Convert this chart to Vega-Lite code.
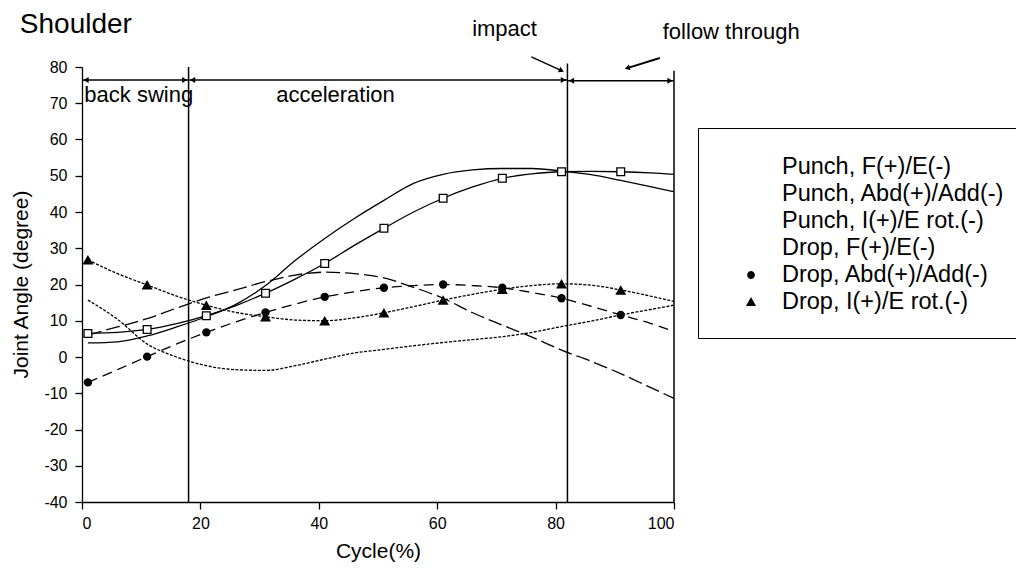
{
  "$schema": "https://vega.github.io/schema/vega-lite/v6.json",
  "width": 592,
  "height": 435,
  "autosize": {"type": "none"},
  "padding": {"left": 82, "top": 67, "right": 342, "bottom": 70},
  "background": "white",
  "config": {
    "font": "Liberation Sans",
    "view": {"stroke": null},
    "axis": {
      "domainColor": "black", "tickColor": "black", "labelColor": "black", "titleColor": "black",
      "labelFont": "Liberation Sans", "titleFont": "Liberation Sans", "titleFontWeight": "normal",
      "grid": false, "domainWidth": 1.3, "tickWidth": 1.3, "labelFontSize": 16, "titleFontSize": 21,
      "labelOverlap": false
    },
    "axisX": {"tickCount": 10},
    "axisY": {"tickCount": 24},
    "legend": {
      "labelFont": "Liberation Sans", "labelFontSize": 23.5, "labelColor": "black"
    }
  },
  "datasets": {
    "curves": [
      {"series": "Punch, F(+)/E(-)", "x": 1, "y": 3.9}, {"series": "Punch, F(+)/E(-)", "x": 6, "y": 4.2}, {"series": "Punch, F(+)/E(-)", "x": 11, "y": 5.8}, {"series": "Punch, F(+)/E(-)", "x": 16, "y": 8.3}, {"series": "Punch, F(+)/E(-)", "x": 21, "y": 11.1}, {"series": "Punch, F(+)/E(-)", "x": 26, "y": 14.5}, {"series": "Punch, F(+)/E(-)", "x": 31, "y": 19.7}, {"series": "Punch, F(+)/E(-)", "x": 36, "y": 26.6}, {"series": "Punch, F(+)/E(-)", "x": 41, "y": 32.7}, {"series": "Punch, F(+)/E(-)", "x": 46, "y": 38.2}, {"series": "Punch, F(+)/E(-)", "x": 51, "y": 43.2}, {"series": "Punch, F(+)/E(-)", "x": 56, "y": 47.9}, {"series": "Punch, F(+)/E(-)", "x": 61, "y": 50.4}, {"series": "Punch, F(+)/E(-)", "x": 66, "y": 51.6}, {"series": "Punch, F(+)/E(-)", "x": 71, "y": 52.0}, {"series": "Punch, F(+)/E(-)", "x": 76, "y": 52.0}, {"series": "Punch, F(+)/E(-)", "x": 81, "y": 51.3}, {"series": "Punch, F(+)/E(-)", "x": 86, "y": 50.3}, {"series": "Punch, F(+)/E(-)", "x": 91, "y": 48.7}, {"series": "Punch, F(+)/E(-)", "x": 96, "y": 47.0}, {"series": "Punch, F(+)/E(-)", "x": 100, "y": 45.6},
      {"series": "Punch, Abd(+)/Add(-)", "x": 1, "y": 6.1}, {"series": "Punch, Abd(+)/Add(-)", "x": 6, "y": 8.3}, {"series": "Punch, Abd(+)/Add(-)", "x": 11, "y": 10.6}, {"series": "Punch, Abd(+)/Add(-)", "x": 16, "y": 13.5}, {"series": "Punch, Abd(+)/Add(-)", "x": 21, "y": 16.3}, {"series": "Punch, Abd(+)/Add(-)", "x": 26, "y": 18.5}, {"series": "Punch, Abd(+)/Add(-)", "x": 31, "y": 20.8}, {"series": "Punch, Abd(+)/Add(-)", "x": 36, "y": 22.6}, {"series": "Punch, Abd(+)/Add(-)", "x": 41, "y": 23.4}, {"series": "Punch, Abd(+)/Add(-)", "x": 46, "y": 23.0}, {"series": "Punch, Abd(+)/Add(-)", "x": 51, "y": 21.8}, {"series": "Punch, Abd(+)/Add(-)", "x": 56, "y": 19.2}, {"series": "Punch, Abd(+)/Add(-)", "x": 61, "y": 16.2}, {"series": "Punch, Abd(+)/Add(-)", "x": 66, "y": 12.2}, {"series": "Punch, Abd(+)/Add(-)", "x": 71, "y": 8.8}, {"series": "Punch, Abd(+)/Add(-)", "x": 76, "y": 5.5}, {"series": "Punch, Abd(+)/Add(-)", "x": 81, "y": 1.9}, {"series": "Punch, Abd(+)/Add(-)", "x": 86, "y": -1.2}, {"series": "Punch, Abd(+)/Add(-)", "x": 91, "y": -4.6}, {"series": "Punch, Abd(+)/Add(-)", "x": 96, "y": -8.4}, {"series": "Punch, Abd(+)/Add(-)", "x": 100, "y": -11.4},
      {"series": "Punch, I(+)/E rot.(-)", "x": 1, "y": 15.7}, {"series": "Punch, I(+)/E rot.(-)", "x": 6, "y": 10.4}, {"series": "Punch, I(+)/E rot.(-)", "x": 11, "y": 3.6}, {"series": "Punch, I(+)/E rot.(-)", "x": 16, "y": 0.0}, {"series": "Punch, I(+)/E rot.(-)", "x": 21, "y": -2.4}, {"series": "Punch, I(+)/E rot.(-)", "x": 26, "y": -3.5}, {"series": "Punch, I(+)/E rot.(-)", "x": 31, "y": -3.7}, {"series": "Punch, I(+)/E rot.(-)", "x": 36, "y": -2.4}, {"series": "Punch, I(+)/E rot.(-)", "x": 41, "y": -0.6}, {"series": "Punch, I(+)/E rot.(-)", "x": 46, "y": 1.1}, {"series": "Punch, I(+)/E rot.(-)", "x": 51, "y": 2.1}, {"series": "Punch, I(+)/E rot.(-)", "x": 56, "y": 3.1}, {"series": "Punch, I(+)/E rot.(-)", "x": 61, "y": 4.0}, {"series": "Punch, I(+)/E rot.(-)", "x": 66, "y": 4.8}, {"series": "Punch, I(+)/E rot.(-)", "x": 71, "y": 5.6}, {"series": "Punch, I(+)/E rot.(-)", "x": 76, "y": 6.8}, {"series": "Punch, I(+)/E rot.(-)", "x": 81, "y": 8.4}, {"series": "Punch, I(+)/E rot.(-)", "x": 86, "y": 9.9}, {"series": "Punch, I(+)/E rot.(-)", "x": 91, "y": 11.6}, {"series": "Punch, I(+)/E rot.(-)", "x": 96, "y": 13.1}, {"series": "Punch, I(+)/E rot.(-)", "x": 100, "y": 14.3},
      {"series": "Drop, F(+)/E(-)", "x": 1, "y": 6.5}, {"series": "Drop, F(+)/E(-)", "x": 6, "y": 6.8}, {"series": "Drop, F(+)/E(-)", "x": 11, "y": 7.6}, {"series": "Drop, F(+)/E(-)", "x": 16, "y": 9.2}, {"series": "Drop, F(+)/E(-)", "x": 21, "y": 11.4}, {"series": "Drop, F(+)/E(-)", "x": 26, "y": 14.2}, {"series": "Drop, F(+)/E(-)", "x": 31, "y": 17.6}, {"series": "Drop, F(+)/E(-)", "x": 36, "y": 21.5}, {"series": "Drop, F(+)/E(-)", "x": 41, "y": 25.8}, {"series": "Drop, F(+)/E(-)", "x": 46, "y": 30.8}, {"series": "Drop, F(+)/E(-)", "x": 51, "y": 35.5}, {"series": "Drop, F(+)/E(-)", "x": 56, "y": 40.0}, {"series": "Drop, F(+)/E(-)", "x": 61, "y": 43.8}, {"series": "Drop, F(+)/E(-)", "x": 66, "y": 46.9}, {"series": "Drop, F(+)/E(-)", "x": 71, "y": 49.3}, {"series": "Drop, F(+)/E(-)", "x": 76, "y": 50.5}, {"series": "Drop, F(+)/E(-)", "x": 81, "y": 51.1}, {"series": "Drop, F(+)/E(-)", "x": 86, "y": 51.2}, {"series": "Drop, F(+)/E(-)", "x": 91, "y": 51.1}, {"series": "Drop, F(+)/E(-)", "x": 96, "y": 50.8}, {"series": "Drop, F(+)/E(-)", "x": 100, "y": 50.4},
      {"series": "Drop, Abd(+)/Add(-)", "x": 1, "y": -7.0}, {"series": "Drop, Abd(+)/Add(-)", "x": 6, "y": -3.5}, {"series": "Drop, Abd(+)/Add(-)", "x": 11, "y": 0.1}, {"series": "Drop, Abd(+)/Add(-)", "x": 16, "y": 3.6}, {"series": "Drop, Abd(+)/Add(-)", "x": 21, "y": 6.8}, {"series": "Drop, Abd(+)/Add(-)", "x": 26, "y": 9.7}, {"series": "Drop, Abd(+)/Add(-)", "x": 31, "y": 12.3}, {"series": "Drop, Abd(+)/Add(-)", "x": 36, "y": 14.6}, {"series": "Drop, Abd(+)/Add(-)", "x": 41, "y": 16.6}, {"series": "Drop, Abd(+)/Add(-)", "x": 46, "y": 18.0}, {"series": "Drop, Abd(+)/Add(-)", "x": 51, "y": 19.1}, {"series": "Drop, Abd(+)/Add(-)", "x": 56, "y": 19.7}, {"series": "Drop, Abd(+)/Add(-)", "x": 61, "y": 20.0}, {"series": "Drop, Abd(+)/Add(-)", "x": 66, "y": 19.7}, {"series": "Drop, Abd(+)/Add(-)", "x": 71, "y": 19.1}, {"series": "Drop, Abd(+)/Add(-)", "x": 76, "y": 17.8}, {"series": "Drop, Abd(+)/Add(-)", "x": 81, "y": 16.2}, {"series": "Drop, Abd(+)/Add(-)", "x": 86, "y": 14.0}, {"series": "Drop, Abd(+)/Add(-)", "x": 91, "y": 11.6}, {"series": "Drop, Abd(+)/Add(-)", "x": 96, "y": 9.3}, {"series": "Drop, Abd(+)/Add(-)", "x": 100, "y": 7.0},
      {"series": "Drop, I(+)/E rot.(-)", "x": 1, "y": 26.8}, {"series": "Drop, I(+)/E rot.(-)", "x": 6, "y": 23.0}, {"series": "Drop, I(+)/E rot.(-)", "x": 11, "y": 19.9}, {"series": "Drop, I(+)/E rot.(-)", "x": 16, "y": 16.8}, {"series": "Drop, I(+)/E rot.(-)", "x": 21, "y": 14.3}, {"series": "Drop, I(+)/E rot.(-)", "x": 26, "y": 12.3}, {"series": "Drop, I(+)/E rot.(-)", "x": 31, "y": 11.1}, {"series": "Drop, I(+)/E rot.(-)", "x": 36, "y": 10.2}, {"series": "Drop, I(+)/E rot.(-)", "x": 41, "y": 10.0}, {"series": "Drop, I(+)/E rot.(-)", "x": 46, "y": 10.8}, {"series": "Drop, I(+)/E rot.(-)", "x": 51, "y": 12.2}, {"series": "Drop, I(+)/E rot.(-)", "x": 56, "y": 13.9}, {"series": "Drop, I(+)/E rot.(-)", "x": 61, "y": 15.7}, {"series": "Drop, I(+)/E rot.(-)", "x": 66, "y": 17.3}, {"series": "Drop, I(+)/E rot.(-)", "x": 71, "y": 18.7}, {"series": "Drop, I(+)/E rot.(-)", "x": 76, "y": 19.7}, {"series": "Drop, I(+)/E rot.(-)", "x": 81, "y": 20.2}, {"series": "Drop, I(+)/E rot.(-)", "x": 86, "y": 19.8}, {"series": "Drop, I(+)/E rot.(-)", "x": 91, "y": 18.5}, {"series": "Drop, I(+)/E rot.(-)", "x": 96, "y": 16.8}, {"series": "Drop, I(+)/E rot.(-)", "x": 100, "y": 15.3}
    ],
    "dividers": [{"x": 18, "bottom": -40, "top": 80}, {"x": 82, "bottom": -40, "top": 81}, {"x": 100, "bottom": -40, "top": 79}],
    "phases": [{"start": 0, "end": 18, "level": 76.4}, {"start": 18, "end": 82, "level": 76.4}, {"start": 82, "end": 100, "level": 76.2}],
    "notes": [
      {"text": "back swing", "x": 0.4, "y": 72.3},
      {"text": "acceleration", "x": 32.8, "y": 72.3},
      {"text": "impact", "x": 65.9, "y": 90.5},
      {"text": "follow through", "x": 98.1, "y": 89.7}
    ],
    "heading": [{"text": "Shoulder", "x": -10.5, "y": 91.6}],
    "impact": [{"x": 75.9, "y": 82.8, "x2": 81.0, "y2": 79.0}],
    "follow": [{"x": 97.6, "y": 82.5, "x2": 92.1, "y2": 79.7}]
  },
  "layer": [
    {
      "data": {"name": "curves"},
      "transform": [{"filter": {"field": "series", "oneOf": ["Punch, F(+)/E(-)", "Drop, F(+)/E(-)"]}}],
      "mark": {"type": "line", "interpolate": "monotone", "color": "black", "strokeWidth": 1.3},
      "encoding": {
        "x": {
          "field": "x", "type": "quantitative", "title": "Cycle(%)",
          "scale": {"domain": [0, 100], "nice": false, "zero": false},
          "axis": {
            "values": [0, 10, 20, 30, 40, 50, 60, 70, 80, 90, 100],
            "labelExpr": "datum.value % 20 === 0 ? '' + datum.value : ''",
            "tickSize": 7,
            "labelPadding": 6,
            "titleX": 296, "titleY": 49, "titleBaseline": "middle"
          }
        },
        "y": {
          "field": "y", "type": "quantitative", "title": "Joint Angle (degree)",
          "scale": {"domain": [-40, 80], "nice": false, "zero": false},
          "axis": {
            "values": [-40, -35, -30, -25, -20, -15, -10, -5, 0, 5, 10, 15, 20, 25, 30, 35, 40, 45, 50, 55, 60, 65, 70, 75, 80],
            "labelExpr": "datum.value % 10 === 0 ? '' + datum.value : ''",
            "tickSize": 7,
            "labelPadding": 8,
            "titleX": -61, "titleY": 217, "titleBaseline": "middle", "titleAngle": 270
          }
        },
        "detail": {"field": "series", "type": "nominal"}
      }
    },
    {
      "data": {"name": "curves"},
      "transform": [{"filter": {"field": "series", "equal": "Punch, Abd(+)/Add(-)"}}],
      "mark": {"type": "line", "interpolate": "monotone", "color": "black", "strokeWidth": 1.3, "strokeDash": [14, 5]},
      "encoding": {
        "x": {"field": "x", "type": "quantitative"},
        "y": {"field": "y", "type": "quantitative"}
      }
    },
    {
      "data": {"name": "curves"},
      "transform": [{"filter": {"field": "series", "equal": "Drop, Abd(+)/Add(-)"}}],
      "mark": {"type": "line", "interpolate": "monotone", "color": "black", "strokeWidth": 1.3, "strokeDash": [10, 6]},
      "encoding": {
        "x": {"field": "x", "type": "quantitative"},
        "y": {"field": "y", "type": "quantitative"}
      }
    },
    {
      "data": {"name": "curves"},
      "transform": [{"filter": {"field": "series", "oneOf": ["Punch, I(+)/E rot.(-)", "Drop, I(+)/E rot.(-)"]}}],
      "mark": {"type": "line", "interpolate": "monotone", "color": "black", "strokeWidth": 1.3, "strokeDash": [3, 1.5]},
      "encoding": {
        "x": {"field": "x", "type": "quantitative"},
        "y": {"field": "y", "type": "quantitative"},
        "detail": {"field": "series", "type": "nominal"}
      }
    },
    {
      "data": {"name": "dividers"},
      "mark": {"type": "rule", "color": "black", "strokeWidth": 1.5},
      "encoding": {
        "x": {"field": "x", "type": "quantitative"},
        "y": {"field": "bottom", "type": "quantitative"},
        "y2": {"field": "top"}
      }
    },
    {
      "data": {"name": "phases"},
      "mark": {"type": "rule", "color": "black", "strokeWidth": 1.4},
      "encoding": {
        "x": {"field": "start", "type": "quantitative"},
        "x2": {"field": "end"},
        "y": {"field": "level", "type": "quantitative"}
      }
    },
    {
      "data": {"name": "phases"},
      "mark": {"type": "point", "shape": "triangle-left", "filled": true, "color": "black", "size": 36, "opacity": 1, "xOffset": 4},
      "encoding": {
        "x": {"field": "start", "type": "quantitative"},
        "y": {"field": "level", "type": "quantitative"}
      }
    },
    {
      "data": {"name": "phases"},
      "mark": {"type": "point", "shape": "triangle-right", "filled": true, "color": "black", "size": 36, "opacity": 1, "xOffset": -4},
      "encoding": {
        "x": {"field": "end", "type": "quantitative"},
        "y": {"field": "level", "type": "quantitative"}
      }
    },
    {
      "data": {"name": "notes"},
      "mark": {"type": "text", "align": "left", "baseline": "middle", "fontSize": 22, "font": "Liberation Sans", "color": "black"},
      "encoding": {
        "x": {"field": "x", "type": "quantitative"},
        "y": {"field": "y", "type": "quantitative"},
        "text": {"field": "text"}
      }
    },
    {
      "data": {"name": "heading"},
      "mark": {"type": "text", "align": "left", "baseline": "middle", "fontSize": 28, "font": "Liberation Sans", "color": "black"},
      "encoding": {
        "x": {"field": "x", "type": "quantitative"},
        "y": {"field": "y", "type": "quantitative"},
        "text": {"field": "text"}
      }
    },
    {
      "data": {"name": "impact"},
      "mark": {"type": "rule", "color": "black", "strokeWidth": 1.5},
      "encoding": {
        "x": {"field": "x", "type": "quantitative"},
        "y": {"field": "y", "type": "quantitative"},
        "x2": {"field": "x2"},
        "y2": {"field": "y2"}
      }
    },
    {
      "data": {"name": "impact"},
      "mark": {"type": "point", "shape": "triangle-right", "filled": true, "color": "black", "size": 36, "opacity": 1, "angle": 26},
      "encoding": {
        "x": {"field": "x2", "type": "quantitative"},
        "y": {"field": "y2", "type": "quantitative"}
      }
    },
    {
      "data": {"name": "follow"},
      "mark": {"type": "rule", "color": "black", "strokeWidth": 2},
      "encoding": {
        "x": {"field": "x", "type": "quantitative"},
        "y": {"field": "y", "type": "quantitative"},
        "x2": {"field": "x2"},
        "y2": {"field": "y2"}
      }
    },
    {
      "data": {"name": "follow"},
      "mark": {"type": "point", "shape": "triangle-right", "filled": true, "color": "black", "size": 36, "opacity": 1, "angle": 163},
      "encoding": {
        "x": {"field": "x2", "type": "quantitative"},
        "y": {"field": "y2", "type": "quantitative"}
      }
    },
    {
      "data": {"name": "curves"},
      "transform": [{"filter": "datum.series === 'Drop, F(+)/E(-)' && datum.x % 10 === 1"}],
      "mark": {"type": "point", "shape": "square", "filled": true, "fill": "white", "stroke": "black", "strokeWidth": 1.3, "size": 60, "opacity": 1},
      "encoding": {
        "x": {"field": "x", "type": "quantitative"},
        "y": {"field": "y", "type": "quantitative"}
      }
    },
    {
      "data": {"name": "curves"},
      "transform": [{"filter": "datum.series === 'Drop, Abd(+)/Add(-)' && datum.x % 10 === 1"}],
      "mark": {"type": "point", "shape": "circle", "filled": true, "color": "black", "size": 70, "opacity": 1},
      "encoding": {
        "x": {"field": "x", "type": "quantitative"},
        "y": {"field": "y", "type": "quantitative"}
      }
    },
    {
      "data": {"name": "curves"},
      "transform": [{"filter": "datum.series === 'Drop, I(+)/E rot.(-)' && datum.x % 10 === 1"}],
      "mark": {"type": "point", "shape": "triangle-up", "filled": true, "color": "black", "size": 120, "opacity": 1},
      "encoding": {
        "x": {"field": "x", "type": "quantitative"},
        "y": {"field": "y", "type": "quantitative"}
      }
    },
    {
      "data": {"name": "curves"},
      "transform": [{"filter": "datum.x > 1000"}],
      "mark": {"type": "point", "filled": true, "fill": "black", "stroke": "black", "strokeWidth": 1.3},
      "encoding": {
        "x": {"field": "x", "type": "quantitative"},
        "y": {"field": "y", "type": "quantitative"},
        "shape": {
          "field": "series", "type": "nominal",
          "scale": {
            "domain": ["Punch, F(+)/E(-)", "Punch, Abd(+)/Add(-)", "Punch, I(+)/E rot.(-)", "Drop, F(+)/E(-)", "Drop, Abd(+)/Add(-)", "Drop, I(+)/E rot.(-)"],
            "range": [
              "M-2,0L-0.48,0M-0.06,0L0.08,0M0.44,0L2,0",
              "M-2,0L-1.44,0M-0.24,0L0.24,0M1.44,0L2,0",
              "M-2,0L-1.86,0M-1.76,0L-1.62,0M-1.52,0L-1.38,0M-1.28,0L-1.14,0M-1.04,0L-0.9,0M-0.8,0L-0.66,0M-0.56,0L-0.48,0M-0.06,0L0.08,0M0.44,0L0.58,0M0.68,0L0.82,0M0.92,0L1.06,0M1.16,0L1.3,0M1.4,0L1.54,0M1.64,0L1.78,0M1.88,0L2,0",
              "M-2,0L-0.26,0M0.26,0L2,0M-0.26,-0.26L0.26,-0.26L0.26,0.26L-0.26,0.26ZM-0.26,-0.26L-0.26,0.26L0.26,0.26L0.26,-0.26Z",
              "M-2,0L-1.44,0M1.44,0L2,0M0.28,0L0.242,0.14L0.14,0.242L0,0.28L-0.14,0.242L-0.242,0.14L-0.28,0L-0.242,-0.14L-0.14,-0.242L0,-0.28L0.14,-0.242L0.242,-0.14Z",
              "M-2,0L-1.86,0M-1.76,0L-1.62,0M-1.52,0L-1.38,0M-1.28,0L-1.14,0M-1.04,0L-0.9,0M-0.8,0L-0.66,0M-0.56,0L-0.42,0M0.4,0L0.54,0M0.64,0L0.78,0M0.88,0L1.02,0M1.12,0L1.26,0M1.36,0L1.5,0M1.6,0L1.74,0M1.84,0L1.98,0M-0.36,0.28L0,-0.36L0.36,0.28Z"
            ]
          },
          "legend": {
            "orient": "none", "legendX": 616, "legendY": 61, "direction": "vertical",
            "title": null,
            "symbolSize": 784, "symbolOffset": 14, "labelOffset": 16, "labelLimit": 500,
            "padding": 24, "rowPadding": -6.2,
            "strokeColor": "black", "fillColor": "white",
            "symbolFillColor": "black", "symbolStrokeColor": "black", "symbolStrokeWidth": 1.3, "symbolOpacity": 1,
            "encode": {
              "symbols": {"update": {"stroke": {"value": "black"}, "strokeWidth": {"value": 1.3}, "strokeOpacity": {"value": 1}, "fill": {"value": "black"}}}
            }
          }
        }
      }
    }
  ]
}
